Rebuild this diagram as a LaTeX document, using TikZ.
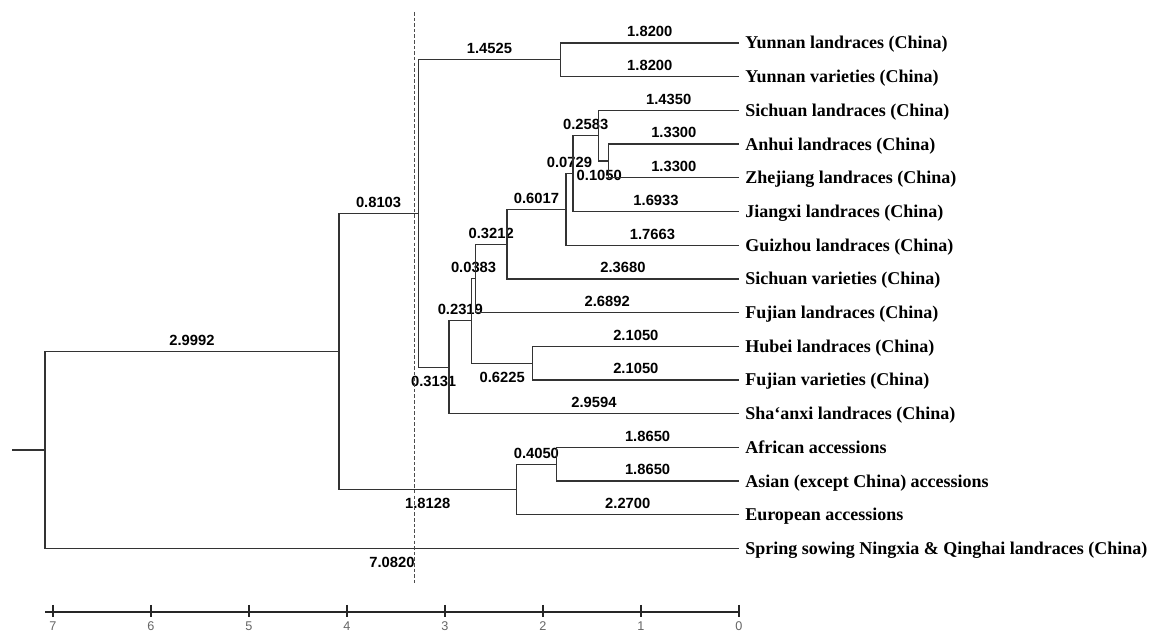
\documentclass[tikz,border=0pt]{standalone}
\usepackage{fontspec}
\setmainfont{Liberation Serif}
\newfontfamily\numfont{Liberation Sans}
\usepackage{tikz}

\tikzset{
	branch/.style={draw=black!80, line width=0.9pt},
	leaf/.style={anchor=west, inner xsep=4.3pt, inner ysep=0pt, text height=8.5pt, text depth=0pt, font=\bfseries\fontsize{12.8}{15}\selectfont},
	lenup/.style={pos=0.75, above, inner sep=3.8pt, font=\numfont\bfseries\fontsize{10.5}{12}\selectfont},
	lendown/.style={pos=0.75, below, inner sep=5.8pt, font=\numfont\bfseries\fontsize{10.5}{12}\selectfont},
	cutline/.style={draw=black!70, line width=0.6pt, dash pattern=on 2.5pt off 1.5pt},
	axis/.style={draw=black!85, line width=0.9pt},
}

\begin{document}
\begin{tikzpicture}[x=-2.45cm, y=-0.8425cm]
	\path[fill=white, use as bounding box] (7.541,-0.276) rectangle (-4.194,18.537);

	\node[leaf] (yunL) at (0,1) {Yunnan landraces (China)};
	\node[leaf] (yunV) at (0,2) {Yunnan varieties (China)};
	\node[leaf] (sicL) at (0,3) {Sichuan landraces (China)};
	\node[leaf] (anh) at (0,4) {Anhui landraces (China)};
	\node[leaf] (zhe) at (0,5) {Zhejiang landraces (China)};
	\node[leaf] (jia) at (0,6) {Jiangxi landraces (China)};
	\node[leaf] (gui) at (0,7) {Guizhou landraces (China)};
	\node[leaf] (sicV) at (0,8) {Sichuan varieties (China)};
	\node[leaf] (fujL) at (0,9) {Fujian landraces (China)};
	\node[leaf] (hub) at (0,10) {Hubei landraces (China)};
	\node[leaf] (fujV) at (0,11) {Fujian varieties (China)};
	\node[leaf] (sha) at (0,12) {Sha‘anxi landraces (China)};
	\node[leaf] (afr) at (0,13) {African accessions};
	\node[leaf] (asi) at (0,14) {Asian (except China) accessions};
	\node[leaf] (eur) at (0,15) {European accessions};
	\node[leaf] (spr) at (0,16) {Spring sowing Ningxia \& Qinghai landraces (China)};

	\coordinate (nYun) at (1.82,1.5);
	\coordinate (nAZ) at (1.33,4.5);
	\coordinate (nSAZ) at (1.435,3.75);
	\coordinate (nJ) at (1.6933,4.875);
	\coordinate (nG) at (1.7663,5.938);
	\coordinate (nSV) at (2.368,6.969);
	\coordinate (nFL) at (2.6892,7.984);
	\coordinate (nHF) at (2.105,10.5);
	\coordinate (nMid) at (2.7275,9.242);
	\coordinate (nSha) at (2.9594,10.621);
	\coordinate (nCh) at (3.2725,6.061);
	\coordinate (nAA) at (1.865,13.5);
	\coordinate (nEu) at (2.27,14.25);
	\coordinate (nA) at (4.0828,10.155);
	\coordinate (root) at (7.082,13.078);
	\coordinate (stub) at (7.418,13.078);

	\draw[branch] (root) -- (stub);
	\draw[branch] (root) |- node[lenup] {2.9992} (nA);
	\draw[branch] (root) |- node[lendown] {7.0820} (spr);
	\draw[branch] (nA) |- node[lenup] {0.8103} (nCh);
	\draw[branch] (nA) |- node[lendown] {1.8128} (nEu);
	\draw[branch] (nCh) |- node[lenup] {1.4525} (nYun);
	\draw[branch] (nCh) |- node[lendown] {0.3131} (nSha);
	\draw[branch] (nYun) |- node[lenup] {1.8200} (yunL);
	\draw[branch] (nYun) |- node[lenup] {1.8200} (yunV);
	\draw[branch] (nSha) |- node[lenup] {0.2319} (nMid);
	\draw[branch] (nSha) |- node[lenup] {2.9594} (sha);
	\draw[branch] (nMid) |- node[lenup] {0.0383} (nFL);
	\draw[branch] (nMid) |- node[lendown] {0.6225} (nHF);
	\draw[branch] (nHF) |- node[lenup] {2.1050} (hub);
	\draw[branch] (nHF) |- node[lenup] {2.1050} (fujV);
	\draw[branch] (nFL) |- node[lenup] {0.3212} (nSV);
	\draw[branch] (nFL) |- node[lenup] {2.6892} (fujL);
	\draw[branch] (nSV) |- node[lenup] {0.6017} (nG);
	\draw[branch] (nSV) |- node[lenup] {2.3680} (sicV);
	\draw[branch] (nG) |- node[lenup] {0.0729} (nJ);
	\draw[branch] (nG) |- node[lenup] {1.7663} (gui);
	\draw[branch] (nJ) |- node[lenup] {0.2583} (nSAZ);
	\draw[branch] (nJ) |- node[lenup] {1.6933} (jia);
	\draw[branch] (nSAZ) |- node[lenup] {1.4350} (sicL);
	\draw[branch] (nSAZ) |- node[lendown, xshift=-3pt] {0.1050} (nAZ);
	\draw[branch] (nAZ) |- node[lenup] {1.3300} (anh);
	\draw[branch] (nAZ) |- node[lenup] {1.3300} (zhe);
	\draw[branch] (nEu) |- node[lenup] {0.4050} (nAA);
	\draw[branch] (nEu) |- node[lenup] {2.2700} (eur);
	\draw[branch] (nAA) |- node[lenup] {1.8650} (afr);
	\draw[branch] (nAA) |- node[lenup] {1.8650} (asi);

	\coordinate (cutTop) at (3.316,0.08);
	\coordinate (cutBot) at (3.316,17.02);
	\draw[cutline] (cutTop) -- (cutBot);

	\coordinate (axL) at (7.08,17.884);
	\coordinate (axR) at (0,17.884);
	\draw[axis] (axL) -- (axR);
\foreach \t in {0, ..., 7}
	\draw[axis] (\t,17.674) -- (\t,18.03) node[below, inner sep=3pt, text=black!60, font=\numfont\fontsize{9}{10}\selectfont] {\t};
\end{tikzpicture}
\end{document}
